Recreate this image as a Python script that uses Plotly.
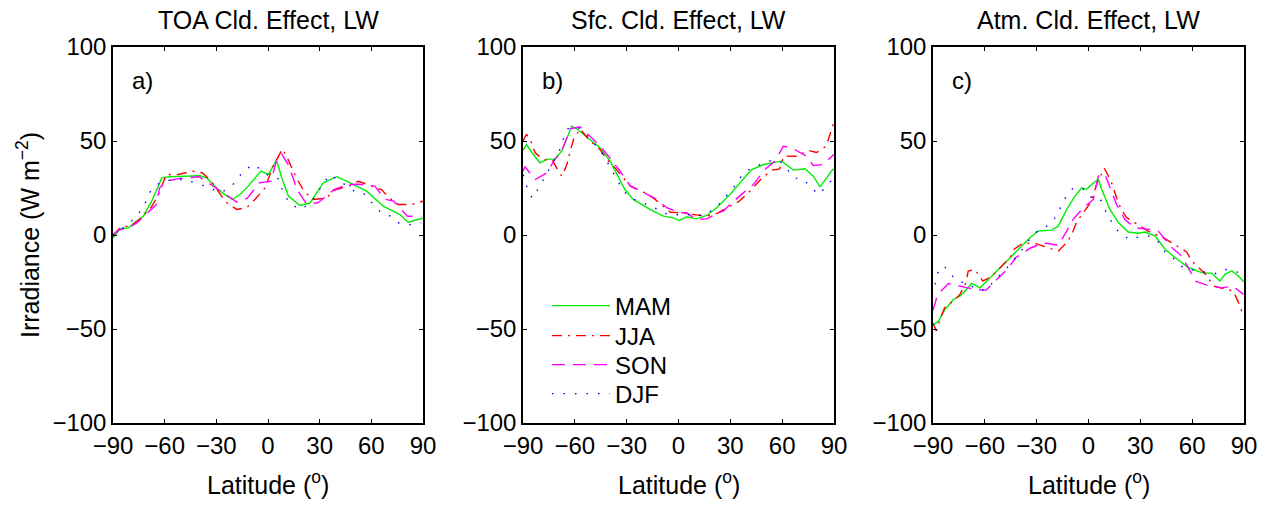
import plotly.graph_objects as go
from plotly.subplots import make_subplots

# ---------------- data ----------------
panel_titles = ["TOA Cld. Effect, LW", "Sfc. Cld. Effect, LW", "Atm. Cld. Effect, LW"]
panel_tags = ["a)", "b)", "c)"]
season_names = ["MAM", "JJA", "SON", "DJF"]
x_ticks = [-90, -60, -30, 0, 30, 60, 90]
y_ticks = [-100, -50, 0, 50, 100]

# Panel a: TOA
toa_mam_lat = [-90, -89.4, -85.9, -81.1, -77.2, -72.4, -67.5, -61.7, -57, -50, -45, -39.5, -35.6, -28.9, -25, -20.6,
               -16.3, -11.5, -4.1, 0.2, 5, 7.8, 11.8, 18.6, 24.4, 32.1, 39.9, 45.7, 57.3, 66.9, 76.6, 81.4, 89.2, 90]
toa_mam_val = [-1.5, -1, 3.3, 3.8, 6.8, 10, 18, 30.4, 31, 31.3, 31.6, 31.5, 30.4, 24.2, 21.5, 18.9,
               21.5, 26, 34, 32.2, 39.8, 31, 20.7, 15.7, 17, 27.8, 31, 28.6, 23.3, 15.3, 10.9, 6.8, 8.8, 9]
toa_jja_lat = [-90, -85, -80, -75, -68, -64, -59, -52, -44, -38, -33, -28, -24.4, -18.2, -12.4, -7.6, -1.8, 3, 6.5,
               8.4, 11.8, 14.6, 17.6, 20.9, 26.4, 33.7, 39, 46.7, 52.5, 58.3, 66.1, 70, 75.7, 83.5, 90]
toa_jja_val = [0, 4.5, 4.5, 8, 14.5, 20.6, 32.2, 32.2, 34, 33, 28.6, 22, 17.5, 13.6, 14.5, 18.9, 25, 36.7, 42.4,
               45.8, 40, 34, 28.6, 23.3, 18.9, 19.6, 24, 26, 28.6, 26.8, 24, 20, 16.2, 16.2, 18]
toa_son_lat = [-90, -87, -81, -76, -72, -65, -63, -59, -52, -40, -33.5, -27, -18, -12, -5, 1.8, 5, 8, 12, 17, 22,
               28.7, 33, 38, 46, 53, 62, 68, 73, 81, 89]
toa_son_val = [0, 2.5, 3.8, 6.5, 10, 16, 25, 28.6, 30, 31, 27, 23, 17.5, 19.6, 27.7, 28.6, 40, 43, 37, 24, 17,
               17, 20, 24, 26.8, 27, 26, 19, 18, 10, 10]
toa_djf_lat = [-90, -86, -79.6, -74.8, -71.3, -68.6, -64, -58.6, -51.9, -45.6, -39.3, -33, -27, -21, -17.4, -13.4,
               -7.5, -2.5, 1.7, 6.5, 8.3, 9.8, 14, 19.9, 26, 35.7, 40.2, 51, 57, 60.7, 65.5, 71, 76, 82, 89]
toa_djf_val = [0, 2.5, 7, 11.8, 17, 22.7, 27, 29, 29.7, 28.6, 27, 24.5, 22.7, 26, 30.4, 35,
               37.5, 33, 31, 29.8, 24, 20.6, 15.7, 13.7, 18.9, 32, 29.7, 22.7, 21.5, 16.7, 12, 10, 6.4, 5.5, 6.4]

# Panel b: Surface
sfc_mam_lat = [-90, -88.8, -88, -84, -80.2, -76.3, -71.5, -67.6, -64.7, -61.8, -58.9, -51.2, -45.4, -39.6, -34.8,
               -31, -26.2, -16.5, -8.8, -3, 0.3, 4.7, 10.5, 16.3, 22.1, 29.8, 35.6, 42.4, 49.1, 54.9, 59.7, 66.5,
               73.2, 78, 81.9, 85.8, 89.2, 90]
sfc_mam_val = [45, 47.2, 48.1, 42.8, 38.4, 40.2, 40.5, 44.6, 51.7, 57.9, 56.5, 50.8, 46.4, 39.3, 31.3,
               24.2, 18.9, 13.6, 10, 9.1, 7.7, 9.7, 8.6, 10.4, 14.5, 21.5, 27.8, 34.8, 37.5, 38.4, 39.3, 34.5,
               35.2, 31.3, 25.6, 30.4, 34.8, 35]
sfc_jja_lat = [-90, -88, -85.5, -83, -78, -73, -70, -67.6, -66.6, -64.3, -62.7, -60.8, -57, -51.2, -45.4, -41.5,
               -36.7, -31.9, -28, -19.4, -14.6, -4.6, 1.8, 8, 16.3, 23, 27.9, 34.6, 39.4, 44.2, 49.1, 54.4, 58.6,
               61, 68.3, 75.1, 79.9, 85.4, 87.7, 90]
sfc_jja_val = [50, 53.6, 50, 43.7, 40.1, 39.7, 34.8, 31.3, 32.7, 38.4, 44.6, 50.8, 56.5, 50, 45.5, 40.2,
               35.7, 30.4, 26, 22.4, 19.7, 12.1, 11.8, 11, 10, 11.8, 14.5, 17.6, 21.5, 26.2, 31, 34.5, 35.2,
               42, 41.9, 45, 43.9, 47.2, 54.3, 60]
sfc_son_lat = [-90, -88.8, -83, -76.3, -71.5, -67.6, -62.7, -57, -50.3, -44.4, -38.6, -33.8, -28, -15.5, -12.6,
               -6.8, 0.9, 4.7, 10.5, 16.3, 23, 25.9, 30.8, 37.5, 43.3, 50, 55.8, 60.7, 65.5, 74.1, 78, 83.8, 89.2, 90]
sfc_son_val = [34, 36.3, 29.5, 33, 40.2, 44.6, 56.5, 57.6, 51.7, 46.4, 39.7, 33.9, 26.2, 20.5, 19,
               14.5, 11.8, 11.8, 8.2, 8.6, 11.8, 12.7, 17.1, 22.4, 26.8, 34.8, 39.3, 47.2, 46.4, 41.9, 37, 37.5, 42.3, 43]
sfc_djf_lat = [-90, -88.8, -87.5, -84.6, -81.1, -78.2, -74.8, -68.6, -66.6, -63.7, -57.9, -53.5, -49.2, -45, -41.5,
               -34.8, -31.9, -27.1, -20.7, -14.9, -9.1, -3, 2.8, 9.5, 15.9, 21.7, 25.9, 29.8, 34.1, 37.5, 43.3, 54,
               58.8, 62.7, 66.9, 72.3, 77.1, 81, 85.4, 89.2]
sfc_djf_val = [32, 30.4, 24.2, 19.5, 24.6, 29.5, 35.2, 45.5, 51.2, 57, 57, 53.5, 49, 44.6, 39.3,
               28.7, 23.4, 19.4, 17.2, 15.1, 11.8, 10.4, 11.5, 10.1, 11.2, 14.5, 18.9, 23.4, 27.8, 33.1, 36.1, 39.8,
               39.3, 35.2, 30.4, 29.5, 25.1, 21.5, 25.6, 29.8]

# Panel c: Atmosphere
atm_mam_lat = [-90, -89.4, -86.9, -83.1, -78.2, -74.4, -70.5, -67.6, -62.8, -56, -48.3, -38.7, -33.9, -29, -21.3,
               -17.5, -12.6, -7.8, -4, -1.1, 1.8, 5.7, 7.6, 12.4, 17.3, 23, 28.9, 32.7, 38.5, 44.3, 50.1, 57.8,
               65.5, 71.3, 76.1, 79, 82.9, 86.7, 89.6, 90]
atm_mam_val = [-48, -47.6, -45.9, -39.6, -34.3, -32.5, -29, -25.8, -28.1, -21.9, -14.8, -5.9, -1.5, 2.1, 2.6,
               4.7, 13.6, 20.7, 25.1, 24.3, 26.9, 29.6, 24.3, 13.6, 6.6, 1.6, 0.9, 1.6, -0.5, -7.6, -12, -17.3,
               -20, -20.4, -24.5, -20.9, -19.1, -21.8, -24.5, -25]
atm_jja_lat = [-90, -88, -86.3, -83.3, -78, -74.4, -71, -69.6, -65.7, -61.2, -56, -51.2, -45.4, -42.9, -37.7, -30,
               -23.6, -17.5, -11.8, -8.9, -7, 1.8, 4.7, 6.6, 9.1, 11, 13.7, 16.2, 18.7, 22, 27.8, 34.5, 45, 50.6,
               56.8, 59.7, 63.5, 68.4, 72.2, 78, 83.8, 87.7, 89.6]
atm_jja_val = [-47, -51, -45.9, -38.7, -35, -31.6, -25.4, -19.2, -18.3, -24.5, -21.9, -17.4, -12.1, -7.4, -4.2, -4.7,
               -6.9, -8.6, -3.2, 2.1, 6.6, 18.1, 27, 30.5, 35.5, 32.3, 27, 19.9, 14.1, 9.3, 5.8, 2.1, -2.3, -5.5,
               -9, -13.8, -17.3, -21.4, -27.1, -28.5, -29.8, -37.8, -43.1]
atm_son_lat = [-90, -89.2, -87.3, -81, -74.4, -65.7, -59.3, -52.8, -47, -42.2, -33.5, -25.7, -17.5, -12.6, -8.9,
               -3, 2.8, 5.7, 9.5, 13.3, 16.2, 21, 26.7, 35.5, 40.4, 48.2, 54, 59.8, 61.7, 70.3, 77.1, 83.8, 89.6]
atm_son_val = [-40, -37.8, -31.6, -25.8, -27.2, -29, -29.3, -23.3, -18.3, -12.1, -6.9, -4.2, -5.5, 2.1, 8.3,
               14.5, 18.9, 31.4, 32.3, 23.4, 16.3, 8.3, 3.9, 3, 2.1, -6.7, -11.2, -20.9, -24.5, -27.2, -28.1, -27.2, -31.6]
atm_djf_lat = [-88.8, -87.3, -83.6, -79.6, -75.4, -69.6, -64.8, -59.3, -54.7, -50.3, -45.4, -37.7, -33.9, -29,
               -23.3, -18.8, -13.2, -8.9, -3, 0.8, 6.6, 9.1, 10.8, 14.3, 18.1, 23.9, 29.7, 35.5, 40.4, 44.3, 49.1,
               53.6, 58.8, 63.3, 67.9, 73.3, 78.6, 83.5, 88.7]
atm_djf_val = [-26.3, -20.2, -16.3, -21.1, -24.6, -25.8, -29.3, -29.3, -24.6, -20.2, -15.7, -6.9, -2.1, 2.6,
               5.1, 9.7, 20.2, 25, 24.4, 20.2, 19.7, 14.5, 10.9, 5.6, 0.9, -2.3, -0.9, -0.5, -3.7, -9, -12.4,
               -16.6, -18, -19.4, -19.7, -20.6, -18.3, -18.9, -20.6]

panels = [
    [(toa_mam_lat, toa_mam_val), (toa_jja_lat, toa_jja_val), (toa_son_lat, toa_son_val), (toa_djf_lat, toa_djf_val)],
    [(sfc_mam_lat, sfc_mam_val), (sfc_jja_lat, sfc_jja_val), (sfc_son_lat, sfc_son_val), (sfc_djf_lat, sfc_djf_val)],
    [(atm_mam_lat, atm_mam_val), (atm_jja_lat, atm_jja_val), (atm_son_lat, atm_son_val), (atm_djf_lat, atm_djf_val)],
]

# ---------------- styling ----------------
W, H = 1275, 505
FONT = "Arial, 'Liberation Sans', Helvetica, sans-serif"
FS = 24
FS_TITLE = 25
styles = [
    dict(color="#00ee00", dash="solid", width=1.4),
    dict(color="#ff0000", dash="10px,6px,2px,6px", width=1.4),
    dict(color="#ff00ff", dash="13px,8px", width=1.4),
    dict(color="#0000ff", dash="1.5px,10px", width=1.4),
]
x_px = [(113, 423), (523, 834), (933, 1244)]
y_px = (47, 423)
legend_rows_px = [306, 336, 365, 394]
legend_names = ["legend", "legend2", "legend3", "legend4"]

fig = make_subplots(rows=1, cols=3)

for p, series in enumerate(panels):
    for s, (lat, val) in enumerate(series):
        fig.add_trace(go.Scatter(x=lat, y=val, mode="lines", name=season_names[s],
                                 line=styles[s], showlegend=(p == 1), legend=legend_names[s]),
                      row=1, col=p + 1)

ydom = [1 - y_px[1] / H, 1 - y_px[0] / H]
annotations = []
for p in range(3):
    xd = [x_px[p][0] / W, x_px[p][1] / W]
    sfx = "" if p == 0 else str(p + 1)
    fig.layout["xaxis" + sfx].update(
        domain=xd, range=[-90, 90], tickvals=x_ticks, ticks="inside", ticklen=4,
        showline=True, linecolor="black", linewidth=1.5, mirror="allticks",
        showgrid=False, zeroline=False, tickfont=dict(family=FONT, size=FS, color="black"),
        tickcolor="black", anchor="y" + sfx, ticklabelstandoff=0)
    fig.layout["yaxis" + sfx].update(
        domain=ydom, range=[-100, 100], tickvals=y_ticks, ticks="inside", ticklen=4,
        showline=True, linecolor="black", linewidth=1.5, mirror="allticks",
        showgrid=False, zeroline=False, tickfont=dict(family=FONT, size=FS, color="black"),
        tickcolor="black", anchor="x" + sfx, ticklabelstandoff=0)
    cx = (xd[0] + xd[1]) / 2
    annotations.append(dict(text=panel_titles[p], x=cx, y=1 - 20 / H, xref="paper", yref="paper",
                            xanchor="center", yanchor="middle", showarrow=False,
                            font=dict(family=FONT, size=FS_TITLE, color="black")))
    annotations.append(dict(text="Latitude (<sup>o</sup>)", x=cx, y=1 - 483 / H, xref="paper", yref="paper",
                            xanchor="center", yanchor="middle", showarrow=False,
                            font=dict(family=FONT, size=25, color="black")))
    annotations.append(dict(text=panel_tags[p], x=-80, y=82, xref="x" + sfx, yref="y" + sfx,
                            xanchor="left", yanchor="middle", showarrow=False,
                            font=dict(family=FONT, size=FS, color="black")))

annotations.append(dict(text="Irradiance (W m<sup>−2</sup>)", x=28 / W, y=(ydom[0] + ydom[1]) / 2,
                        xref="paper", yref="paper", xanchor="center", yanchor="middle",
                        textangle=-90, showarrow=False, font=dict(family=FONT, size=FS_TITLE, color="black")))

legend_layout = {}
for s, ln in enumerate(legend_names):
    legend_layout[ln] = dict(x=547 / W, y=1 - legend_rows_px[s] / H, xanchor="left", yanchor="middle",
                             bgcolor="rgba(0,0,0,0)", font=dict(family=FONT, size=FS, color="black"),
                             itemwidth=58, tracegroupgap=0)

fig.update_layout(
    width=W, height=H, margin=dict(l=0, r=0, t=0, b=0, autoexpand=False),
    paper_bgcolor="white", plot_bgcolor="white",
    annotations=annotations,
    **legend_layout,
)

fig.write_html("out.html", config={"displayModeBar": False},
               post_script="document.body.style.margin='0px';")
